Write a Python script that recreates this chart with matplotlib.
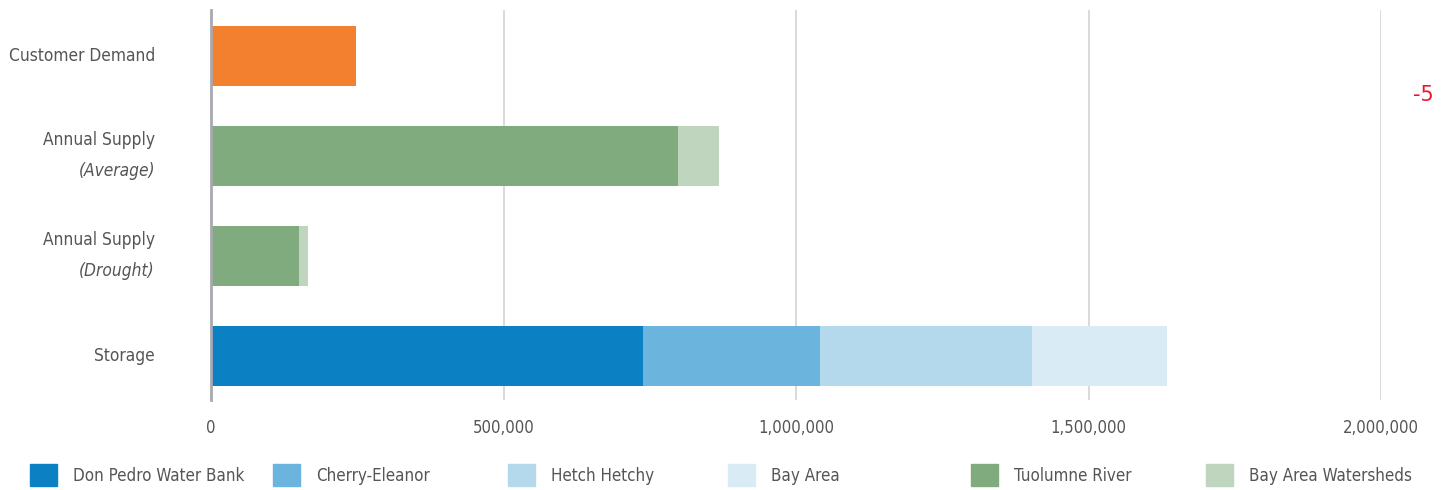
import numpy as np
import matplotlib.pyplot as plt
from matplotlib.patches import Patch
from matplotlib import font_manager

# data
categories = ["Customer Demand", "Annual Supply\n(Average)", "Annual Supply\n(Drought)", "Storage"]
demand = [248000, 0, 0, 0]
tuolumne = [0, 798000, 150000, 0]
bay_watersheds = [0, 70000, 15000, 0]
don_pedro = [0, 0, 0, 738000]
cherry_eleanor = [0, 0, 0, 303000]
hetch_hetchy = [0, 0, 0, 362000]
bay_area = [0, 0, 0, 231000]
xticks = [0, 500000, 1000000, 1500000, 2000000]

# pick a condensed face if one is around
fonts = font_manager.fontManager.ttflist
names = {f.name for f in fonts}
stretch = "normal"
if "Liberation Sans Narrow" in names:
    fam = "Liberation Sans Narrow"
elif any(f.name == "DejaVu Sans" and f.stretch == "condensed" for f in fonts):
    fam = "DejaVu Sans"
    stretch = "condensed"
elif "Roboto Condensed" in names:
    fam = "Roboto Condensed"
else:
    fam = "Roboto"
plt.rcParams["font.family"] = [fam, "DejaVu Sans"]
plt.rcParams["font.stretch"] = stretch
text_col = "#555555"

fig = plt.figure(figsize=(14.47, 4.9), dpi=100)
ax = fig.add_axes([211 / 1447, 90 / 490, (1381 - 211) / 1447, 390 / 490])

y = np.arange(len(categories))
h = 0.6
ax.barh(y, demand, height=h, color="#f2802e", zorder=2)

series = [
    ("Don Pedro Water Bank", don_pedro, "#0b81c4"),
    ("Cherry-Eleanor", cherry_eleanor, "#6ab4dd"),
    ("Hetch Hetchy", hetch_hetchy, "#b4d9ec"),
    ("Bay Area", bay_area, "#d9ebf5"),
    ("Tuolumne River", tuolumne, "#80ab7e"),
    ("Bay Area Watersheds", bay_watersheds, "#bfd5be"),
]
left_storage = np.zeros(len(categories))
left_supply = np.zeros(len(categories))
for i, (name, vals, col) in enumerate(series):
    vals = np.array(vals)
    if i < 4:
        ax.barh(y, vals, left=left_storage, height=h, color=col, zorder=2)
        left_storage += vals
    else:
        ax.barh(y, vals, left=left_supply, height=h, color=col, zorder=2)
        left_supply += vals

ax.set_ylim(3.44, -0.46)
ax.set_xlim(0, 2000000)
ax.set_yticks(y)
ax.set_yticklabels([])
tr = ax.get_yaxis_transform()
lab_fs = 12.4
for yi, cat in zip(y, categories):
    parts = cat.split("\n")
    if len(parts) == 1:
        ax.text(-0.048, yi, parts[0], transform=tr, ha="right", va="center",
                fontsize=lab_fs, color=text_col)
    else:
        ax.text(-0.048, yi - 0.16, parts[0], transform=tr, ha="right", va="center",
                fontsize=lab_fs, color=text_col)
        ax.text(-0.048, yi + 0.15, parts[1], transform=tr, ha="right", va="center",
                fontsize=lab_fs, color=text_col, style="italic")

ax.set_xticks(xticks)
ax.set_xticklabels([f"{v:,}" for v in xticks], fontsize=12, color=text_col)
ax.tick_params(axis="both", length=0)
ax.tick_params(axis="x", pad=14)
ax.xaxis.grid(True, color="#d0d0d0", linewidth=1.1, zorder=0)
ax.set_axisbelow(True)
for s in ["top", "right", "bottom"]:
    ax.spines[s].set_visible(False)
ax.spines["left"].set_color("#a8a8b0")
ax.spines["left"].set_linewidth(2)
ax.spines["left"].set_zorder(3)

# one legend box per entry so the spacing follows the reference
leg_x = [30, 273, 508, 728, 971, 1206]
for lx, (name, _, col) in zip(leg_x, series):
    leg = fig.legend(handles=[Patch(color=col, label=name)], loc="center left",
                     bbox_to_anchor=(lx / 1447, 15 / 490), frameon=False, fontsize=12.2,
                     handlelength=1.6, handleheight=1.65, handletextpad=0.95,
                     borderaxespad=0, borderpad=0)
    for t in leg.get_texts():
        t.set_color(text_col)

fig.text(1423 / 1447, 1 - 95 / 490, "-5", color="#e8192c", fontsize=15,
         ha="center", va="center", family="DejaVu Sans", stretch="normal")

fig.savefig("out.png", dpi=100)
